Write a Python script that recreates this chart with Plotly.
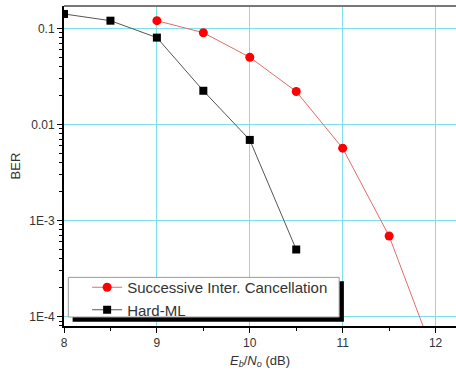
import plotly.graph_objects as go

snr_ml = [8, 8.5, 9, 9.5, 10, 10.5]
ber_ml = [0.141, 0.12, 0.08, 0.0224, 0.0069, 5.0e-4]
snr_sic = [9, 9.5, 10, 10.5, 11, 11.5, 12]
ber_sic = [0.12, 0.09, 0.05, 0.022, 0.00566, 6.9e-4, 3.6e-5]
ytick_vals = [0.1, 0.01, 1e-3, 1e-4]
ytick_text = ["0.1", "0.01", "1E-3", "1E-4"]
xtick_vals = [8, 9, 10, 11, 12]
xtick_text = ["8", "9", "10", "11", "12"]

minor_y = [m * 10 ** e for e in range(-5, 0) for m in range(2, 10)]

fig = go.Figure()
fig.add_trace(go.Scatter(
    x=snr_sic, y=ber_sic, mode="lines+markers",
    name="Successive Inter. Cancellation",
    line=dict(color="#e66a6a", width=1),
    marker=dict(symbol="circle", size=9, color="#ff0000"),
))
fig.add_trace(go.Scatter(
    x=snr_ml, y=ber_ml, mode="lines+markers", name="Hard-ML",
    line=dict(color="#555555", width=1),
    marker=dict(symbol="square", size=8, color="#000000"),
))

font = "Liberation Sans, Arial, sans-serif"
fig.update_layout(
    width=456, height=380,
    margin=dict(l=64, r=0, t=6, b=54),
    paper_bgcolor="white", plot_bgcolor="white",
    font=dict(family=font, size=12, color="#333333"),
    showlegend=True,
    legend=dict(
        x=0.059, y=0.0, xanchor="left", yanchor="bottom",
        bgcolor="rgba(0,0,0,0)", borderwidth=0,
        font=dict(size=15, color="#333333"),
        itemwidth=30, tracegroupgap=0,
    ),
    xaxis=dict(
        range=[8, 12.22], tickvals=xtick_vals, ticktext=xtick_text,
        showgrid=True, gridcolor="#7fe0e8", gridwidth=1,
        zeroline=False, showline=True, linecolor="#000000", linewidth=2,
        ticks="outside", ticklen=5, tickcolor="#000000",
        minor=dict(tickvals=[8.5, 9.5, 10.5, 11.5], ticks="outside", ticklen=3, tickcolor="#000000"),
        title=dict(text="<i>E</i><sub><i>b</i></sub>/<i>N</i><sub><i>o</i></sub> (dB)", font=dict(size=13), standoff=6),
        tickfont=dict(size=12),
    ),
    yaxis=dict(
        type="log", range=[-4.097, -0.768], tickvals=ytick_vals, ticktext=ytick_text,
        showgrid=True, gridcolor="#7fe0e8", gridwidth=1,
        zeroline=False, showline=True, linecolor="#000000", linewidth=2,
        ticks="outside", ticklen=5, tickcolor="#000000",
        minor=dict(tickvals=minor_y, ticks="outside", ticklen=3, tickcolor="#000000", showgrid=False),
        title=dict(text="BER", font=dict(size=13), standoff=6),
        tickfont=dict(size=12),
    ),
)
# top frame line
fig.add_shape(type="line", xref="paper", yref="paper", x0=0, x1=1, y0=1, y1=1,
              line=dict(color="#777777", width=2))
# legend shadow and box
fig.add_shape(type="rect", xref="paper", yref="paper", x0=0.022, x1=0.714, y0=0.0134, y1=0.14,
              fillcolor="#000000", line=dict(width=0), layer="above")
fig.add_shape(type="rect", xref="paper", yref="paper", x0=0.011, x1=0.702, y0=0.028, y1=0.152,
              fillcolor="#ffffff", line=dict(color="#999999", width=1), layer="above")
fig.write_html("out.html")
